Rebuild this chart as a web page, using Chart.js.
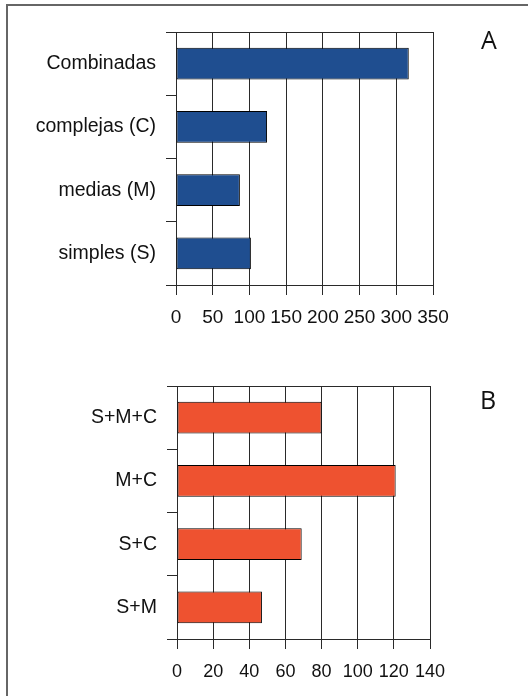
<!DOCTYPE html>
<html>
<head>
<meta charset="utf-8">
<script src="https://cdn.jsdelivr.net/npm/chart.js@4/dist/chart.umd.min.js"></script>
<style>
  body { margin: 0; background: #fff; width: 528px; height: 696px; overflow: hidden; position: relative; }
  .frame { position: absolute; left: 6px; top: 4px; width: 700px; height: 900px; border-left: 2px solid #666; border-top: 2px solid #666; }
  canvas { position: absolute; left: 0; }
  .tag { position: absolute; font-family: "Open Sans", sans-serif; font-size: 25px; color: #111; line-height: 1; }
</style>
</head>
<body>
<div class="frame"></div>
<canvas id="chartA" width="528" height="340" style="top:0"></canvas>
<canvas id="chartB" width="528" height="356" style="top:340px"></canvas>
<div class="tag" style="left:481px; top:27px">A</div>
<div class="tag" style="left:480px; top:387px">B</div>
<script>
// panel A: tipos de tareas
const catsA = ["Combinadas", "complejas (C)", "medias (M)", "simples (S)"];
const valsA = [317, 124, 87, 102];
const ticksA = [0, 50, 100, 150, 200, 250, 300, 350];

// panel B: combinaciones
const catsB = ["S+M+C", "M+C", "S+C", "S+M"];
const valsB = [80, 121, 69, 47];
const ticksB = [0, 20, 40, 60, 80, 100, 120, 140];

const FONT = '"Liberation Sans", Arial, sans-serif';
const LINE = "#2a2a2a";

// top edge of the plot box
const topLine = {
  id: "topLine",
  afterDraw(chart) {
    const { ctx, chartArea } = chart;
    ctx.save();
    ctx.strokeStyle = LINE;
    ctx.lineWidth = 1;
    ctx.beginPath();
    ctx.moveTo(chartArea.left, chartArea.top + 0.5);
    ctx.lineTo(chartArea.right, chartArea.top + 0.5);
    ctx.stroke();
    ctx.restore();
  }
};

function makeChart(id, cats, vals, ticks, color, opt) {
  return new Chart(document.getElementById(id), {
    type: "bar",
    data: {
      labels: cats,
      datasets: [{
        data: vals,
        backgroundColor: color,
        borderColor: "#000",
        borderWidth: 1,
        borderSkipped: false,
        categoryPercentage: 1,
        barPercentage: 0.5
      }]
    },
    options: {
      indexAxis: "y",
      responsive: false,
      animation: false,
      devicePixelRatio: 1,
      layout: { padding: { top: opt.top, right: opt.right, left: 0, bottom: 0 } },
      plugins: { legend: { display: false }, tooltip: { enabled: false } },
      scales: {
        x: {
          min: ticks[0],
          max: ticks[ticks.length - 1],
          afterBuildTicks: (s) => { s.ticks = ticks.map((v) => ({ value: v })); },
          afterFit: (s) => { s.height = opt.xh; },
          grid: { color: LINE, lineWidth: 1, tickLength: 10, drawTicks: true },
          border: { color: LINE, width: 1 },
          ticks: { color: "#111", padding: opt.tickPad, maxRotation: 0, autoSkip: false,
                   font: { family: FONT, size: opt.tickSize } }
        },
        y: {
          afterFit: (s) => { s.width = opt.left; },
          grid: { drawOnChartArea: false, color: LINE, tickLength: 10, offset: true },
          border: { color: LINE, width: 1 },
          ticks: { color: "#111", padding: 10, font: { family: FONT, size: 19.5 } }
        }
      }
    },
    plugins: [topLine]
  });
}

makeChart("chartA", catsA, valsA, ticksA, "#1f4e90",
  { top: 32, right: 95, left: 176, xh: 55, tickSize: 19, tickPad: 11 });
makeChart("chartB", catsB, valsB, ticksB, "#ee5230",
  { top: 46, right: 98, left: 177, xh: 57, tickSize: 18, tickPad: 12 });
</script>
</body>
</html>
